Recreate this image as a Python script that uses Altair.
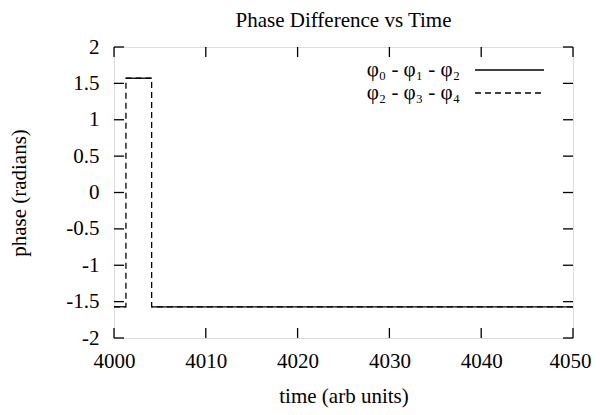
import altair as alt
import pandas as pd

# ---- data ----
x_ticks = [4000, 4010, 4020, 4030, 4040, 4050]
y_ticks = [-2, -1.5, -1, -0.5, 0, 0.5, 1, 1.5, 2]

# dashed series: phi2 - phi3 - phi4 (full step path)
t_dash = [4000, 4001.3, 4001.3, 4004.1, 4004.1, 4050]
v_dash = [-1.5708, -1.5708, 1.5708, 1.5708, -1.5708, -1.5708]

# solid series: phi0 - phi1 - phi2 (horizontal pieces only)
t_solid = [4000, 4001.3, 4001.3, 4004.1, 4004.1, 4050]
v_solid = [-1.5708, -1.5708, 1.5708, 1.5708, -1.5708, -1.5708]
seg_solid = [0, 0, 1, 1, 2, 2]

labels = ["φ₀ - φ₁ - φ₂", "φ₂ - φ₃ - φ₄"]

FONT = "Liberation Serif"
W, H = 459, 291
FS = 21

xs = alt.Scale(domain=[4000, 4050], nice=False, zero=False)
ys = alt.Scale(domain=[-2, 2], nice=False, zero=False)

df_dash = pd.DataFrame({"t": t_dash, "v": v_dash})
df_solid = pd.DataFrame({"t": t_solid, "v": v_solid, "seg": seg_solid})
df_xt = pd.DataFrame({"t": x_ticks})
df_yt = pd.DataFrame({"v": y_ticks})

ax_x = alt.Axis(values=x_ticks, grid=False, ticks=False, domain=False,
                labelPadding=12, labelFont=FONT, labelFontSize=FS,
                labelColor="black", labelExpr="toString(datum.value)",
                labelFlush=False, labelOverlap=False, labelBound=False,
                labelOffset={"condition": {"test": "datum.value == 4050", "value": -3},
                             "value": 0},
                titleFont=FONT, titleFontSize=FS, titleFontWeight="normal",
                titleColor="black", titleX=W / 2, titleY=58,
                titleBaseline="middle")
ax_y = alt.Axis(values=y_ticks, grid=False, ticks=False, domain=False,
                labelPadding=15, labelFont=FONT, labelFontSize=FS,
                labelColor="black", labelExpr="toString(datum.value)",
                labelFlush=False, labelOverlap=False, labelBound=False,
                titleFont=FONT, titleFontSize=FS, titleFontWeight="normal",
                titleColor="black", titleX=-95, titleY=H / 2,
                titleAngle=-90, titleBaseline="middle")

X = alt.X("t:Q", scale=xs, title="time (arb units)", axis=ax_x)
Y = alt.Y("v:Q", scale=ys, title="phase (radians)", axis=ax_y)

solid = alt.Chart(df_solid).mark_line(color="black", strokeWidth=1.3).encode(
    x=X, y=Y, detail="seg:N", order="t:Q")
dashed = alt.Chart(df_dash).mark_line(color="black", strokeWidth=1.3,
                                      strokeDash=[6, 4]).encode(x=X, y=Y)

# inward ticks on all four sides
xt_bot = alt.Chart(df_xt).mark_rule(color="black", strokeWidth=1.3).encode(
    x=X, y=alt.value(H), y2=alt.value(H - 10))
xt_top = alt.Chart(df_xt).mark_rule(color="black", strokeWidth=1.3).encode(
    x=X, y=alt.value(0), y2=alt.value(10))
yt_left = alt.Chart(df_yt).mark_rule(color="black", strokeWidth=1.3).encode(
    y=Y, x=alt.value(0), x2=alt.value(10))
yt_right = alt.Chart(df_yt).mark_rule(color="black", strokeWidth=1.3).encode(
    y=Y, x=alt.value(W), x2=alt.value(W - 10))

# custom gnuplot-style key (text then sample line)
key_layers = []
for i, lab in enumerate(labels):
    d = pd.DataFrame({"label": [lab]})
    yy = 23 + 23 * i
    key_layers.append(alt.Chart(d).mark_text(font=FONT, fontSize=FS, align="right",
                                             baseline="middle", color="black").encode(
        text="label:N", x=alt.value(346), y=alt.value(yy)))
    key_layers.append(alt.Chart(d).mark_rule(
        color="black", strokeWidth=1.3,
        strokeDash=[] if i == 0 else [6, 4]).encode(
        x=alt.value(361), x2=alt.value(430), y=alt.value(yy)))

chart = alt.layer(solid, dashed, xt_bot, xt_top, yt_left, yt_right, *key_layers).properties(
    width=W, height=H,
    title=alt.TitleParams("Phase Difference vs Time", font=FONT, fontSize=FS,
                          fontWeight="normal", color="black", anchor="middle",
                          offset=5),
    autosize=alt.AutoSizeParams(type="none"),
    padding={"left": 106, "top": 39, "right": 19, "bottom": 77},
).configure_view(stroke="black", strokeWidth=1.6).configure(background="white")

chart.save("out.html", embed_options={"renderer": "svg", "actions": False})
